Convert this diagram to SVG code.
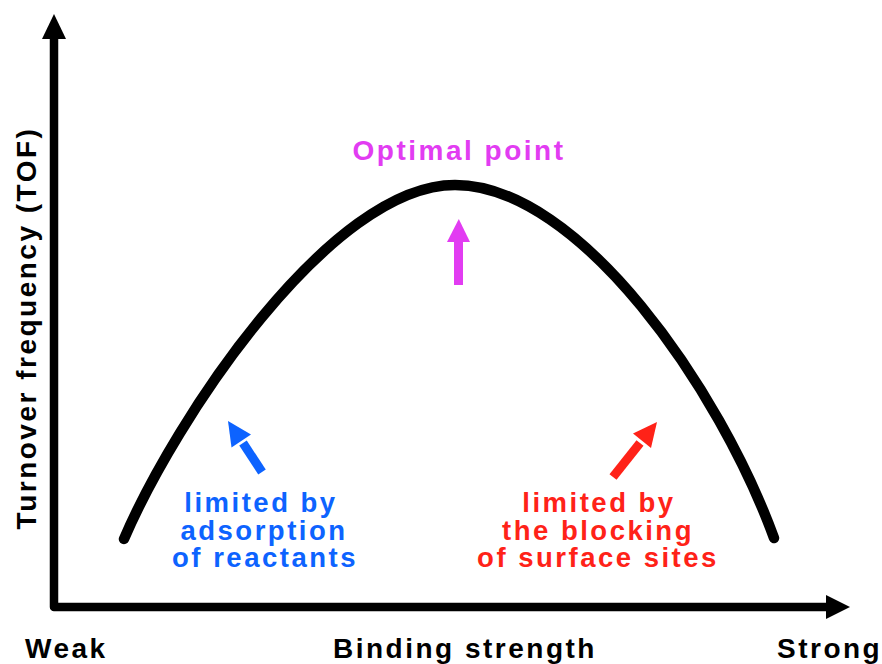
<svg xmlns="http://www.w3.org/2000/svg" width="882" height="664" viewBox="0 0 882 664">
<style>
  text { font-family: "Liberation Sans", Arial, sans-serif; font-weight: bold; font-size: 28px; letter-spacing: 2.5px; }
  .mid { text-anchor: middle; }
  .blue { fill: #0d63ff; }
  .red { fill: #ff2218; }
  .mag { fill: #e23cf2; }
  .axis { fill: none; stroke: #000; stroke-width: 8.5; stroke-linejoin: round; }
  .curve { fill: none; stroke: #000; stroke-width: 10.5; stroke-linecap: round; }
  .shaft { fill: none; stroke-width: 9; }
  .lbl { font-size: 27.5px; }
</style>
<rect width="882" height="664" fill="#fff"/>
<g id="axes">
  <path class="axis" d="M54,38 V607 H827"/>
  <polygon points="54,14 42,39 66,39" fill="#000"/>
  <polygon points="850,607 826,595 826,619" fill="#000"/>
</g>
<g id="curve">
  <path class="curve" d="M124,539 C175,420 330,185 455,185 C580,185 720,390 774,538"/>
</g>
<g id="connectors">
  <line class="shaft" x1="262" y1="472" x2="243" y2="443" stroke="#0d63ff"/>
  <polygon points="228,421 251,434.5 231.5,447.5" fill="#0d63ff"/>
  <line class="shaft" x1="613" y1="477" x2="640" y2="443" stroke="#ff2218"/>
  <polygon points="657,422 651,448 633,433.5" fill="#ff2218"/>
  <line class="shaft" x1="458.5" y1="285" x2="458.5" y2="240" stroke="#e23cf2"/>
  <polygon points="458.8,219 447,242 470,242" fill="#e23cf2"/>
</g>
<g id="optimal">
  <text class="mid mag" x="459" y="160">Optimal point</text>
</g>
<g id="adsorption">
  <text class="mid blue lbl" x="261" y="512">limited by</text>
  <text class="mid blue lbl" x="264" y="540">adsorption</text>
  <text class="mid blue lbl" x="265" y="567">of reactants</text>
</g>
<g id="blocking">
  <text class="mid red lbl" x="599" y="512">limited by</text>
  <text class="mid red lbl" x="598" y="540">the blocking</text>
  <text class="mid red lbl" x="598" y="567">of surface sites</text>
</g>
<g id="labels">
  <text x="25" y="658">Weak</text>
  <text class="mid" x="465" y="658">Binding strength</text>
  <text x="777" y="658">Strong</text>
  <text class="mid" transform="translate(36,328) rotate(-90)">Turnover frequency (TOF)</text>
</g>
</svg>
